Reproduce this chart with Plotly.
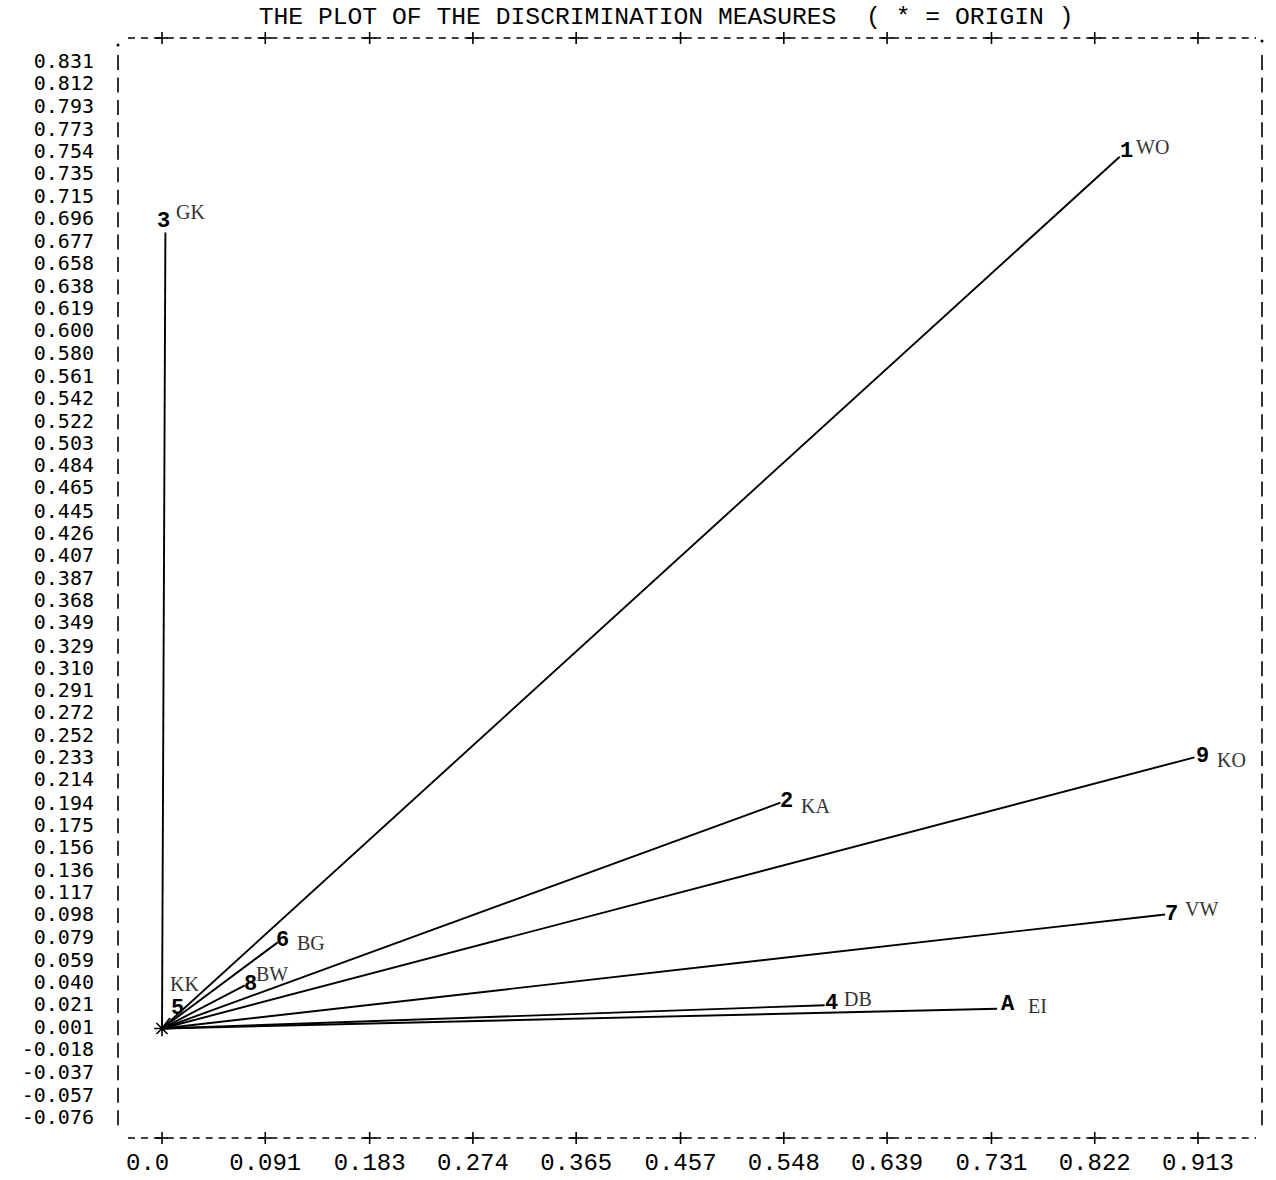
import plotly.graph_objects as go

# Discrimination measures of the ten variables (dimension 1, dimension 2)
codes = ["1", "2", "3", "4", "5", "6", "7", "8", "9", "A"]
names = ["WO", "KA", "GK", "DB", "KK", "BG", "VW", "BW", "KO", "EI"]
dim1 = [0.844, 0.545, 0.003, 0.584, 0.007, 0.102, 0.884, 0.073, 0.910, 0.736]
dim2 = [0.749, 0.194, 0.684, 0.020, 0.009, 0.074, 0.098, 0.037, 0.233, 0.017]

x_ticks = ["0.0", "0.091", "0.183", "0.274", "0.365", "0.457", "0.548",
           "0.639", "0.731", "0.822", "0.913"]
y_ticks = ["0.831", "0.812", "0.793", "0.773", "0.754", "0.735", "0.715",
           "0.696", "0.677", "0.658", "0.638", "0.619", "0.600", "0.580",
           "0.561", "0.542", "0.522", "0.503", "0.484", "0.465", "0.445",
           "0.426", "0.407", "0.387", "0.368", "0.349", "0.329", "0.310",
           "0.291", "0.272", "0.252", "0.233", "0.214", "0.194", "0.175",
           "0.156", "0.136", "0.117", "0.098", "0.079", "0.059", "0.040",
           "0.021", "0.001", "-0.018", "-0.037", "-0.057", "-0.076"]

TITLE = "THE PLOT OF THE DISCRIMINATION MEASURES\u00a0\u00a0( * = ORIGIN )"

# label offsets in pixels: (number dx, dy, name dx, dy)
label_offsets = {
    "1": (7, 5, 33, 10),
    "2": (6, 1, 35, -3),
    "3": (-2, 11, 25, 20),
    "4": (7, 2, 33, 6),
    "5": (8, 10, 15, 34),
    "6": (5, 2, 33, -1),
    "7": (6, 0, 36, 5),
    "8": (6, 1, 27, 11),
    "9": (8, 1, 37, -3),
    "A": (11, 4, 40, 3),
}

MONO = "Liberation Mono, DejaVu Sans Mono, monospace"
TICKMONO = "DejaVu Sans Mono, Liberation Mono, monospace"
SERIF = "Liberation Serif, DejaVu Serif, serif"

fig = go.Figure()

# vectors from the origin to each variable
lx, ly = [], []
for xv, yv in zip(dim1, dim2):
    lx += [0, xv, None]
    ly += [0, yv, None]
fig.add_trace(go.Scatter(x=lx, y=ly, mode="lines",
                         line=dict(color="black", width=1.9),
                         hoverinfo="skip", showlegend=False))

# origin marker
fig.add_trace(go.Scatter(x=[0], y=[0], mode="markers",
                         marker=dict(symbol="asterisk-open", size=13,
                                     color="black",
                                     line=dict(color="black", width=1.6)),
                         hoverinfo="skip", showlegend=False))

annotations = []
for c, n, xv, yv in zip(codes, names, dim1, dim2):
    ndx, ndy, tdx, tdy = label_offsets[c]
    annotations.append(dict(x=xv, y=yv, xref="x", yref="y", text=c,
                            showarrow=False, xanchor="center", yanchor="middle",
                            xshift=ndx, yshift=ndy,
                            font=dict(family=MONO, size=22, color="black",
                                      weight="bold")))
    annotations.append(dict(x=xv, y=yv, xref="x", yref="y", text=n,
                            showarrow=False, xanchor="center", yanchor="middle",
                            xshift=tdx, yshift=tdy,
                            font=dict(family=SERIF, size=20, color="#333333")))

# printer-style frame: dashed rules with '+' at every x tick
W, H = 1276, 1180
L, R, T, B = 118, 14, 38, 42
pw, ph = W - L - R, H - T - B


def px_x(p):
    return (p - L) / pw


def px_y(p):
    return (H - B - p) / ph


shapes = []
rule = dict(color="black", width=1.6)
# top and bottom rows of dashes
for yy in (1.0, 0.0):
    shapes.append(dict(type="line", xref="paper", yref="paper",
                       x0=px_x(128), x1=px_x(1256), y0=yy, y1=yy,
                       line=dict(color="black", width=1.6, dash="7px,5.95px")))
# left and right columns of bars
for xx in (0.0, 1.0):
    shapes.append(dict(type="line", xref="paper", yref="paper",
                       x0=xx, x1=xx, y0=px_y(55), y1=px_y(1128),
                       line=dict(color="black", width=1.6, dash="15px,7.45px")))
# plus signs at the tick positions
x_vals = [float(t) for t in x_ticks]
for xv in x_vals:
    for yy in (1.0, 0.0):
        shapes.append(dict(type="line", xref="x", yref="paper",
                           xsizemode="pixel", xanchor=xv, x0=-6, x1=6,
                           y0=yy, y1=yy, line=rule))
        shapes.append(dict(type="line", xref="x", yref="paper",
                           ysizemode="pixel", yanchor=yy, y0=-6, y1=6,
                           x0=xv, x1=xv, line=rule))

# corner dots
fig.add_trace(go.Scatter(x=[px_x(118), px_x(1262), px_x(118), px_x(1262)],
                         y=[px_y(45), px_y(41), px_y(1145), px_y(1143)],
                         xaxis="x2", yaxis="y2", mode="markers",
                         marker=dict(size=3, color="black"),
                         cliponaxis=False, hoverinfo="skip", showlegend=False))

x_text = [t if len(t) >= 5 else t + "\u00a0" * (5 - len(t)) for t in x_ticks]

fig.update_layout(
    width=W, height=H, autosize=False,
    margin=dict(l=L, r=R, t=T, b=B, autoexpand=False),
    paper_bgcolor="white", plot_bgcolor="white",
    title=dict(text=TITLE, x=0.522, xanchor="center", y=1 - 15 / H,
               yanchor="middle", automargin=False,
               font=dict(family=MONO, size=24.7, color="black")),
    xaxis=dict(range=[(118 - 162) / 1134.7, (1262 - 162) / 1134.7],
               tickvals=x_vals, ticktext=x_text, ticks="",
               showgrid=False, zeroline=False, showline=False,
               automargin=False, ticklabelstandoff=7,
               tickfont=dict(family=MONO, size=24, color="black")),
    yaxis=dict(range=[-(1138 - 1028.5) / 1163.9, (1028.5 - 38) / 1163.9],
               tickvals=[float(t) for t in y_ticks], ticktext=y_ticks,
               ticks="", showgrid=False, zeroline=False, showline=False,
               automargin=False, ticklabelstandoff=23,
               tickfont=dict(family=TICKMONO, size=20, color="black")),
    xaxis2=dict(range=[0, 1], visible=False, overlaying="x"),
    yaxis2=dict(range=[0, 1], visible=False, overlaying="y"),
    annotations=annotations,
    shapes=shapes,
)

fig.write_html("out.html")
